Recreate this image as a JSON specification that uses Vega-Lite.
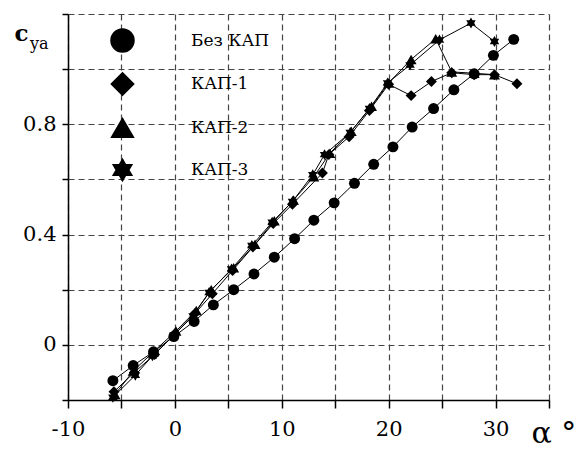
{
  "$schema": "https://vega.github.io/schema/vega-lite/v6.json",
  "width": 481,
  "height": 386,
  "autosize": {"type": "none"},
  "padding": {"left": 68, "top": 14, "right": 33, "bottom": 50},
  "background": "white",
  "title": {"text": "ya", "anchor": "start", "frame": "group", "orient": "top", "font": "DejaVu Serif", "fontSize": 16, "fontWeight": "normal", "color": "black", "dx": -38, "dy": 62, "offset": 0, "baseline": "alphabetic"},
  "config": {"view": {"stroke": null}, "font": "DejaVu Serif"},
  "data": {"values": [
    {"series": "Без КАП", "alpha": -5.8, "cy": -0.13},
    {"series": "Без КАП", "alpha": -3.9, "cy": -0.075},
    {"series": "Без КАП", "alpha": -2.0, "cy": -0.025},
    {"series": "Без КАП", "alpha": -0.1, "cy": 0.03},
    {"series": "Без КАП", "alpha": 1.8, "cy": 0.085},
    {"series": "Без КАП", "alpha": 3.6, "cy": 0.145},
    {"series": "Без КАП", "alpha": 5.5, "cy": 0.20},
    {"series": "Без КАП", "alpha": 7.4, "cy": 0.257},
    {"series": "Без КАП", "alpha": 9.3, "cy": 0.318},
    {"series": "Без КАП", "alpha": 11.2, "cy": 0.385},
    {"series": "Без КАП", "alpha": 13.0, "cy": 0.452},
    {"series": "Без КАП", "alpha": 14.9, "cy": 0.515},
    {"series": "Без КАП", "alpha": 16.8, "cy": 0.586},
    {"series": "Без КАП", "alpha": 18.6, "cy": 0.655},
    {"series": "Без КАП", "alpha": 20.4, "cy": 0.718},
    {"series": "Без КАП", "alpha": 22.2, "cy": 0.79},
    {"series": "Без КАП", "alpha": 24.2, "cy": 0.857},
    {"series": "Без КАП", "alpha": 26.1, "cy": 0.925},
    {"series": "Без КАП", "alpha": 28.0, "cy": 0.983},
    {"series": "Без КАП", "alpha": 29.8, "cy": 1.05},
    {"series": "Без КАП", "alpha": 31.7, "cy": 1.108},
    {"series": "КАП-1", "alpha": -5.7, "cy": -0.17},
    {"series": "КАП-1", "alpha": -3.8, "cy": -0.10},
    {"series": "КАП-1", "alpha": -1.9, "cy": -0.035},
    {"series": "КАП-1", "alpha": 0.0, "cy": 0.04},
    {"series": "КАП-1", "alpha": 1.9, "cy": 0.115},
    {"series": "КАП-1", "alpha": 3.5, "cy": 0.185},
    {"series": "КАП-1", "alpha": 5.4, "cy": 0.27},
    {"series": "КАП-1", "alpha": 7.3, "cy": 0.355},
    {"series": "КАП-1", "alpha": 9.2, "cy": 0.44},
    {"series": "КАП-1", "alpha": 11.0, "cy": 0.51},
    {"series": "КАП-1", "alpha": 13.8, "cy": 0.623},
    {"series": "КАП-1", "alpha": 14.4, "cy": 0.69},
    {"series": "КАП-1", "alpha": 16.3, "cy": 0.755},
    {"series": "КАП-1", "alpha": 18.2, "cy": 0.85},
    {"series": "КАП-1", "alpha": 20.0, "cy": 0.945},
    {"series": "КАП-1", "alpha": 22.1, "cy": 0.904},
    {"series": "КАП-1", "alpha": 24.0, "cy": 0.955},
    {"series": "КАП-1", "alpha": 25.9, "cy": 0.987},
    {"series": "КАП-1", "alpha": 28.0, "cy": 0.98},
    {"series": "КАП-1", "alpha": 29.9, "cy": 0.98},
    {"series": "КАП-1", "alpha": 32.0, "cy": 0.947},
    {"series": "КАП-2", "alpha": -5.6, "cy": -0.18},
    {"series": "КАП-2", "alpha": -3.9, "cy": -0.095},
    {"series": "КАП-2", "alpha": -2.0, "cy": -0.025},
    {"series": "КАП-2", "alpha": 0.1, "cy": 0.05},
    {"series": "КАП-2", "alpha": 2.0, "cy": 0.125},
    {"series": "КАП-2", "alpha": 3.4, "cy": 0.20},
    {"series": "КАП-2", "alpha": 5.5, "cy": 0.28},
    {"series": "КАП-2", "alpha": 7.5, "cy": 0.365},
    {"series": "КАП-2", "alpha": 9.3, "cy": 0.45},
    {"series": "КАП-2", "alpha": 11.1, "cy": 0.525},
    {"series": "КАП-2", "alpha": 13.0, "cy": 0.61},
    {"series": "КАП-2", "alpha": 14.5, "cy": 0.695},
    {"series": "КАП-2", "alpha": 16.5, "cy": 0.775},
    {"series": "КАП-2", "alpha": 18.4, "cy": 0.865},
    {"series": "КАП-2", "alpha": 20.0, "cy": 0.95},
    {"series": "КАП-2", "alpha": 22.1, "cy": 1.035},
    {"series": "КАП-2", "alpha": 24.4, "cy": 1.11},
    {"series": "КАП-2", "alpha": 25.9, "cy": 0.99},
    {"series": "КАП-2", "alpha": 28.0, "cy": 0.985},
    {"series": "КАП-2", "alpha": 29.9, "cy": 0.98},
    {"series": "КАП-3", "alpha": -5.8, "cy": -0.19},
    {"series": "КАП-3", "alpha": -3.7, "cy": -0.11},
    {"series": "КАП-3", "alpha": -2.1, "cy": -0.04},
    {"series": "КАП-3", "alpha": -0.1, "cy": 0.035},
    {"series": "КАП-3", "alpha": 1.7, "cy": 0.105},
    {"series": "КАП-3", "alpha": 3.2, "cy": 0.19},
    {"series": "КАП-3", "alpha": 5.3, "cy": 0.275},
    {"series": "КАП-3", "alpha": 7.2, "cy": 0.36},
    {"series": "КАП-3", "alpha": 9.1, "cy": 0.445},
    {"series": "КАП-3", "alpha": 11.0, "cy": 0.52},
    {"series": "КАП-3", "alpha": 12.9, "cy": 0.617},
    {"series": "КАП-3", "alpha": 14.0, "cy": 0.69},
    {"series": "КАП-3", "alpha": 16.4, "cy": 0.77},
    {"series": "КАП-3", "alpha": 18.2, "cy": 0.857},
    {"series": "КАП-3", "alpha": 19.9, "cy": 0.95},
    {"series": "КАП-3", "alpha": 22.0, "cy": 1.015},
    {"series": "КАП-3", "alpha": 24.75, "cy": 1.106},
    {"series": "КАП-3", "alpha": 27.7, "cy": 1.167},
    {"series": "КАП-3", "alpha": 29.9, "cy": 1.10}
  ]},
  "encoding": {
    "x": {
      "field": "alpha", "type": "quantitative",
      "scale": {"domain": [-10, 35], "nice": false, "zero": false},
      "axis": {
        "values": [-10, -5, 0, 5, 10, 15, 20, 25, 30, 35],
        "labelExpr": "datum.value % 10 === 0 ? '' + datum.value : ''",
        "grid": true, "gridDash": [6, 4], "gridColor": "#444", "gridWidth": 1.2, "gridOpacity": 1,
        "domainColor": "black", "domainWidth": 1.5,
        "tickColor": "black", "tickSize": 8, "tickWidth": 1.5,
        "labelFont": "DejaVu Serif", "labelFontSize": 21, "labelColor": "black", "labelPadding": 10,
        "labelFlush": false, "labelOverlap": false,
        "title": "α °", "titleFont": "DejaVu Serif", "titleFontSize": 30, "titleFontWeight": "normal", "titleColor": "black",
        "titleX": 463, "titleY": 42, "titleAlign": "left", "titleBaseline": "alphabetic"
      }
    },
    "y": {
      "field": "cy", "type": "quantitative",
      "scale": {"domain": [-0.2, 1.2], "nice": false, "zero": false},
      "axis": {
        "values": [-0.2, 0, 0.2, 0.4, 0.6, 0.8, 1.0, 1.2],
        "labelExpr": "datum.value === 0 ? '0' : ((abs(datum.value - 0.4) < 0.001 || abs(datum.value - 0.8) < 0.001) ? format(datum.value, '.1f') : '')",
        "grid": true, "gridDash": [6, 4], "gridColor": "#444", "gridWidth": 1.2, "gridOpacity": 1,
        "domainColor": "black", "domainWidth": 1.5,
        "tickColor": "black", "tickSize": 6, "tickWidth": 1.5,
        "labelFont": "DejaVu Serif", "labelFontSize": 21, "labelColor": "black", "labelPadding": 6,
        "labelFlush": false, "labelOverlap": false,
        "title": "c", "titleFont": "DejaVu Serif", "titleFontSize": 23, "titleFontWeight": "bold", "titleColor": "black",
        "titleAngle": 0, "titleX": -54, "titleY": 26, "titleAlign": "left", "titleBaseline": "alphabetic"
      }
    }
  },
  "layer": [
    {
      "mark": {"type": "line", "color": "black", "strokeWidth": 1},
      "encoding": {"detail": {"field": "series", "type": "nominal"}, "order": {"field": "alpha", "type": "quantitative"}}
    },
    {
      "mark": {"type": "point", "filled": true, "color": "black", "opacity": 1, "size": 120},
      "encoding": {
        "shape": {
          "field": "series", "type": "nominal",
          "scale": {
            "domain": ["Без КАП", "КАП-1", "КАП-2", "КАП-3"],
            "range": ["circle", "diamond", "triangle-up", "M0,-1L0.289,-0.5L0.866,-0.5L0.577,0L0.866,0.5L0.289,0.5L0,1L-0.289,0.5L-0.866,0.5L-0.577,0L-0.866,-0.5L-0.289,-0.5Z"]
          },
          "legend": {
            "orient": "none", "legendX": 42, "legendY": 14, "title": null, "padding": 0,
            "symbolSize": 600, "symbolFillColor": "black", "symbolStrokeColor": "black", "symbolOpacity": 1, "symbolStrokeWidth": 0,
            "labelFont": "DejaVu Serif", "labelFontSize": 17, "labelColor": "black", "labelOffset": 56,
            "labelBaseline": "middle", "rowPadding": 18.5, "fillColor": null
          }
        }
      }
    }
  ]
}
